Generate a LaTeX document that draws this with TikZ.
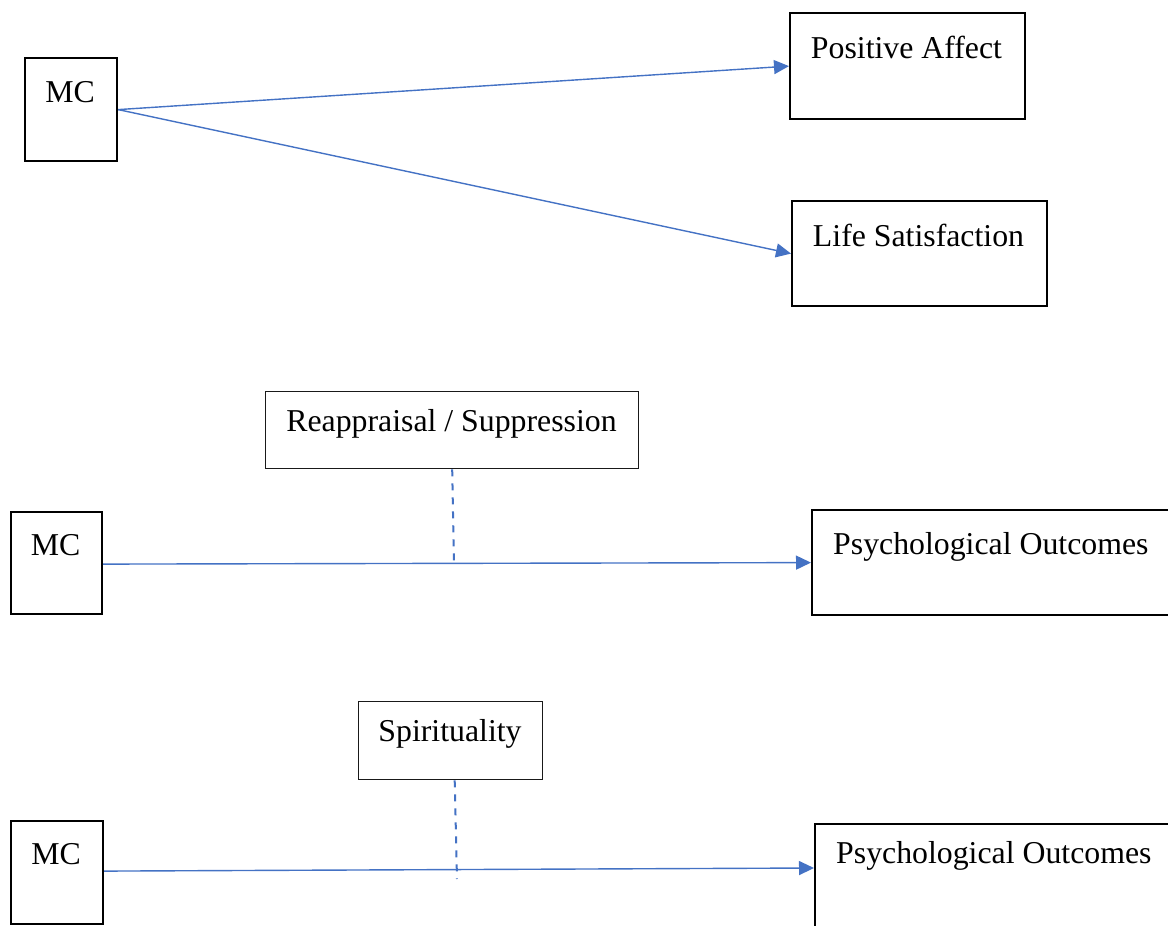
\documentclass[tikz,border=0pt]{standalone}
\usepackage{fontspec}
\setmainfont{Liberation Serif}
\usetikzlibrary{arrows.meta,calc}
\definecolor{linkblue}{HTML}{4472C4}
\tikzset{
  thickbox/.style={draw=black, line width=2.2pt, inner sep=0pt, anchor=north west},
  thinbox/.style={draw=black!90, line width=1.4pt, inner sep=0pt, anchor=north west},
  lbl/.style={inner sep=0pt, anchor=base, font=\fontsize{31.8}{38}\selectfont},
  link/.style={draw=linkblue, line width=1.4pt, -{Triangle[length=15pt,width=14pt]}},
  modline/.style={draw=linkblue, line width=2pt, dash pattern=on 7pt off 7pt}
}
\begin{document}
\begin{tikzpicture}[x=1pt,y=-1pt]
\useasboundingbox (0,0) rectangle (1168,926);
\clip (0,0) rectangle (1168,926);
% Panel 1
\node[thickbox, minimum width=92pt, minimum height=103pt] (mc1) at (24,57) {};
\node[lbl] (mc1t) at (70,102) {MC};
\node[thickbox, minimum width=235pt, minimum height=106pt] (pa) at (789,12) {};
\node[lbl] (pat) at (906.5,58) {Positive Affect};
\node[thickbox, minimum width=255pt, minimum height=105pt] (ls) at (791,200) {};
\node[lbl] (lst) at (918.5,246) {Life Satisfaction};
\draw[link] (mc1.east) -- (pa.west);
\draw[link] (mc1.east) -- (ls.west);
% Panel 2
\node[thinbox, minimum width=373pt, minimum height=77pt] (re) at (265,391) {};
\node[lbl] (ret) at (451.5,431) {Reappraisal / Suppression};
\node[thickbox, minimum width=91pt, minimum height=102pt] (mc2) at (10,511) {};
\node[lbl] (mc2t) at (55.5,555) {MC};
\node[thickbox, minimum width=370pt, minimum height=105pt] (po1) at (811,509) {};
\node[lbl, anchor=base west] (po1t) at (833,554) {Psychological Outcomes};
\draw[link] ($(mc2.east)+(0,1)$) -- (po1.west);
\coordinate (d1) at (454,567);
\draw[modline] (re.south) -- (d1);
% Panel 3
\node[thinbox, minimum width=184pt, minimum height=78pt] (sp) at (358,701) {};
\node[lbl] (spt) at (450,741) {Spirituality};
\node[thickbox, minimum width=92pt, minimum height=103pt] (mc3) at (10,820) {};
\node[lbl] (mc3t) at (56,864) {MC};
\node[thickbox, minimum width=370pt, minimum height=130pt] (po2) at (814,823) {};
\node[lbl, anchor=base west] (po2t) at (836,863) {Psychological Outcomes};
\draw[link] ($(mc3.east)+(0,-1.5)$) -- ($(po2.north west)+(0,45)$);
\coordinate (d2a) at ($(sp.south)+(4,0)$);
\coordinate (d2) at (457,879);
\draw[modline] (d2a) -- (d2);
\end{tikzpicture}
\end{document}
